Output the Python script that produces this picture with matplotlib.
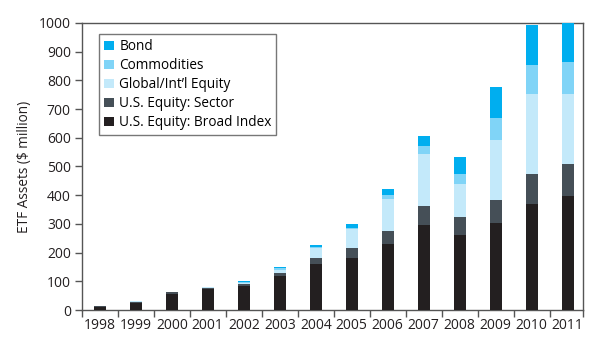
import matplotlib
matplotlib.use("Agg")
import matplotlib.pyplot as plt
import numpy as np
from matplotlib.patches import Patch

plt.rcParams['font.family'] = ['Open Sans', 'DejaVu Sans']

years = ['1998', '1999', '2000', '2001', '2002', '2003', '2004', '2005',
         '2006', '2007', '2008', '2009', '2010', '2011']
broad = [12, 26, 56, 72, 85, 120, 161, 182, 231, 297, 262, 302, 370, 398]
sector = [2, 1, 7, 6, 6, 9, 20, 33, 44, 65, 61, 81, 104, 110]
global_intl = [0, 4, 0, 2, 4, 10, 36, 67, 112, 183, 116, 210, 277, 246]
commodities = [0, 0, 0, 0, 2, 6, 4, 4, 14, 28, 34, 76, 102, 110]
bond = [0, 0, 0, 0, 4, 5, 5, 14, 21, 33, 59, 108, 139, 136]

series = [
    ('U.S. Equity: Broad Index', broad, '#231f20'),
    ('U.S. Equity: Sector', sector, '#454f57'),
    ('Global/Int\u2019l Equity', global_intl, '#c3e9fa'),
    ('Commodities', commodities, '#80d4f7'),
    ('Bond', bond, '#00aeef'),
]

fig = plt.figure(figsize=(6.02, 3.58), dpi=100)
ax = fig.add_axes([0.136, 0.134, 0.832, 0.802])

x = np.arange(len(years))
bottom = np.zeros(len(years))
for name, vals, col in series:
    v = np.array(vals, dtype=float)
    ax.bar(x, v, width=0.33, bottom=bottom, color=col, edgecolor='none', zorder=3)
    bottom += v

ax.set_xlim(-0.5, 13.42)
ax.set_ylim(0, 1000)
ax.set_yticks(range(0, 1001, 100))
ax.set_xticks(x)
ax.set_xticklabels(years)
ax.tick_params(axis='x', which='major', length=0, pad=6, labelsize=10, colors='#231f20')
ax.set_xticks(list(np.arange(-0.5, 13, 1.0)) + [13.42], minor=True)
ax.tick_params(axis='x', which='minor', length=5, width=1, color='#555555', direction='out')
ax.tick_params(axis='y', length=5, width=1, color='#555555', labelsize=10, colors='#231f20', pad=3)
for s in ax.spines.values():
    s.set_color('#555555')
    s.set_linewidth(1.0)

ax.set_ylabel('ETF Assets ($ million)', fontsize=9.8, color='#231f20', labelpad=5)

handles = [Patch(facecolor=c, edgecolor='none', label=n) for n, _, c in reversed(series)]
leg = ax.legend(handles=handles, loc='upper left', bbox_to_anchor=(0.035, 0.96),
                fontsize=9.8, frameon=True, fancybox=False, handlelength=0.7,
                handleheight=0.7, handletextpad=0.4, borderpad=0.35, labelspacing=0.3,
                borderaxespad=0)
leg.get_frame().set_edgecolor('#555555')
leg.get_frame().set_linewidth(1.0)

fig.savefig('out.png', dpi=100)
